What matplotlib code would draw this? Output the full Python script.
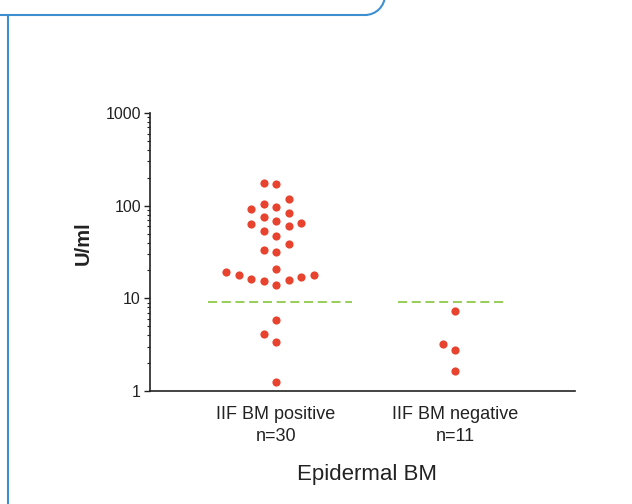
import numpy as np
import matplotlib
matplotlib.use("Agg")
import matplotlib.pyplot as plt
from matplotlib.lines import Line2D
from matplotlib.patches import Arc
from matplotlib.ticker import FixedLocator, FixedFormatter, LogLocator, NullFormatter

plt.rcParams['font.family'] = ['Liberation Sans', 'DejaVu Sans']

# ---- data ----
groups = ["IIF BM positive\nn=30", "IIF BM negative\nn=11"]
pos_values = [177, 171, 117, 105, 97, 92, 84, 75, 68, 64.5,
              64, 60.8, 53, 47, 38.9, 33, 32, 20.6, 19.1, 17.9,
              17.7, 17.1, 16.2, 15.8, 15.3, 13.9, 5.8, 4.1, 3.4, 1.26]
neg_values = [7.3, 3.2, 2.8, 1.66]
cutoffs = [9.2, 9.2]
yticks = [1, 10, 100, 1000]
ytick_labels = ["1", "10", "100", "1000"]

# ---- style ----
W, H = 632, 504
DOT = "#e8432e"
GREEN = "#8fc94a"
BLUE = "#3d8fd1"
INK = "#222222"
STEP = 0.0698          # horizontal spacing between swarm columns (data units)
MIN_GAP = 0.14         # vertical gap (decades) before dots share a column
SPANS = [(0.382, 0.423), (0.318, 0.291)]


def swarm_offsets(values, step, min_gap):
    logs = np.log10(np.asarray(values, float))
    slots = np.zeros(len(logs), int)
    placed = []
    cands = [0]
    for k in range(1, 20):
        cands += [-k, k]
    for i in np.argsort(logs, kind="stable"):
        for c in cands:
            if all(not (s == c and abs(l - logs[i]) < min_gap) for s, l in placed):
                break
        placed.append((c, logs[i]))
        slots[i] = c
    return slots * step


fig = plt.figure(figsize=(W / 100, H / 100), dpi=100)
ax = fig.add_axes([150 / W, 1 - 391 / H, 425 / W, 278 / H])

for gi, vals in enumerate([pos_values, neg_values]):
    xc = gi + 1
    xs = xc + swarm_offsets(vals, STEP, MIN_GAP)
    ax.plot(xs, vals, 'o', ms=5.9, mfc=DOT, mec='none', zorder=3)
    lo, hi = SPANS[gi]
    ax.plot([xc - lo, xc + hi], [cutoffs[gi]] * 2, color=GREEN, lw=1.3,
            dashes=(5.0, 2.6), zorder=2)

ax.set_yscale('log')
ax.set_ylim(1, 1000)
ax.set_xlim(0.296, 2.670)
ax.yaxis.set_major_locator(FixedLocator(yticks))
ax.yaxis.set_major_formatter(FixedFormatter(ytick_labels))
ax.yaxis.set_minor_locator(LogLocator(base=10, subs=np.arange(2, 10)))
ax.yaxis.set_minor_formatter(NullFormatter())
ax.tick_params(axis='y', which='major', length=4.5, width=1.0, color=INK,
               labelsize=11.5, labelcolor=INK, pad=2)
ax.tick_params(axis='y', which='minor', length=2.5, width=0.8, color=INK)

ax.set_xticks([1, 2])
ax.set_xticklabels(groups)
ax.tick_params(axis='x', length=0, labelsize=13, labelcolor=INK, pad=11)
for t in ax.get_xticklabels():
    t.set_linespacing(1.35)

for s in ['top', 'right']:
    ax.spines[s].set_visible(False)
for s in ['left', 'bottom']:
    ax.spines[s].set_linewidth(1.2)
    ax.spines[s].set_color(INK)

ax.set_xlabel("Epidermal BM", fontsize=16, color=INK)
ax.xaxis.label.set_va('baseline')
ax.xaxis.set_label_coords((367 - 150) / 425, (391 - 480) / 278)

ax.set_ylabel("U/ml", fontsize=14.5, fontweight='bold', color=INK)
ax.yaxis.label.set_va('center')
ax.yaxis.label.set_ha('center')
ax.yaxis.set_label_coords((83 - 150) / 425, (391 - 243) / 278)

# decorative frame lines of the page
fig.add_artist(Line2D([8 / W, 8 / W], [0, 1 - 15 / H], color=BLUE, lw=1.5,
                      transform=fig.transFigure))
fig.add_artist(Line2D([0, 365 / W], [1 - 15 / H] * 2, color=BLUE, lw=1.5,
                      transform=fig.transFigure))
fig.add_artist(Arc((365 / W, 1 + 5 / H), 40 / W, 40 / H, theta1=270, theta2=360,
                   color=BLUE, lw=1.5, transform=fig.transFigure))

fig.savefig("out.png", dpi=100)
